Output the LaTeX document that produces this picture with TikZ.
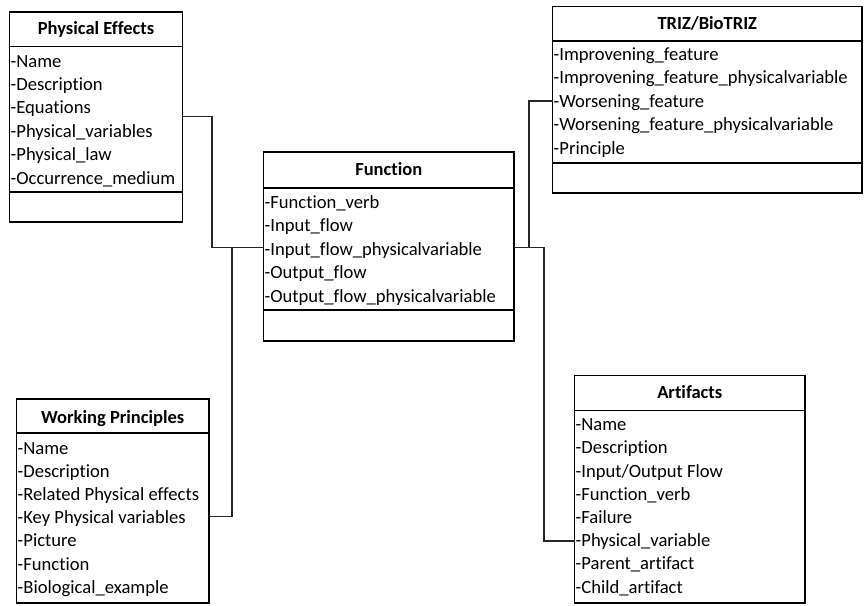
\documentclass[tikz,border=0pt]{standalone}
\usepackage{fontspec}
\setmainfont{Carlito}[Ligatures={NoCommon}]
\begin{document}
\begin{tikzpicture}[x=1pt,y=-1pt,
  box/.style={draw=black, line width=1.9pt, fill=white, inner sep=0pt, outer sep=0pt},
  rule/.style={line width=1.9pt},
  head/.style={font=\fontsize{18.5}{22}\selectfont\bfseries, anchor=base, inner sep=0pt},
  attr/.style={font=\fontsize{18.6}{22}\selectfont, anchor=base west, inner sep=0pt},
  link/.style={draw=black!85, line width=1.1pt}]
\useasboundingbox (0,0) rectangle (864,605);

% ---------- class boxes ----------
\node[box, minimum width=173pt,   minimum height=210pt]   (pe) at (96,117) {};
\node[box, minimum width=250.5pt, minimum height=189pt]   (fn) at (388.75,246.5) {};
\node[box, minimum width=309.5pt, minimum height=186.5pt] (tz) at (707.25,99.75) {};
\node[box, minimum width=192.5pt, minimum height=204pt]   (wp) at (112.75,501) {};
\node[box, minimum width=230.5pt, minimum height=227.5pt] (ar) at (689.75,489.25) {};

% compartment rules
\draw[rule] (pe.west |- 0,46.5) -- (pe.east |- 0,46.5);
\draw[rule] (pe.west |- 0,192)  -- (pe.east |- 0,192);
\draw[rule] (fn.west |- 0,188)  -- (fn.east |- 0,188);
\draw[rule] (fn.west |- 0,310)  -- (fn.east |- 0,310);
\draw[rule] (tz.west |- 0,41)   -- (tz.east |- 0,41);
\draw[rule] (tz.west |- 0,163)  -- (tz.east |- 0,163);
\draw[rule] (wp.west |- 0,433)  -- (wp.east |- 0,433);
\draw[rule] (ar.west |- 0,410.5) -- (ar.east |- 0,410.5);

% ---------- titles ----------
\node[head] (pe-t) at (96,34)     {Physical Effects};
\node[head] (fn-t) at (388.75,175) {Function};
\node[head] (tz-t) at (707.25,29) {TRIZ/BioTRIZ};
\node[head] (wp-t) at (112.75,423) {Working Principles};
\node[head] (ar-t) at (689.75,398) {Artifacts};

% ---------- attributes ----------
\foreach \t [count=\i from 0] in {-Name,-Description,-Equations,-Physical\_variables,-Physical\_law,-Occurrence\_medium}
  \node[attr] (pe-\i) at (10.5,67+23.4*\i) {\t};
\foreach \t [count=\i from 0] in {-Function\_verb,-Input\_flow,-Input\_flow\_physicalvariable,-Output\_flow,-Output\_flow\_physicalvariable}
  \node[attr] (fn-\i) at (264.5,208+23.5*\i) {\t};
\foreach \t [count=\i from 0] in {-Improvening\_feature,-Improvening\_feature\_physicalvariable,-Worsening\_feature,-Worsening\_feature\_physicalvariable,-Principle}
  \node[attr] (tz-\i) at (553.5,60+23.5*\i) {\t};
\foreach \t [count=\i from 0] in {-Name,-Description,-Related Physical effects,-Key Physical variables,-Picture,-Function,-Biological\_example}
  \node[attr] (wp-\i) at (17.5,454+23.2*\i) {\t};
\foreach \t [count=\i from 0] in {-Name,-Description,-Input/Output Flow,-Function\_verb,-Failure,-Physical\_variable,-Parent\_artifact,-Child\_artifact}
  \node[attr] (ar-\i) at (575.5,430.7+23.2*\i) {\t};

% ---------- connectors ----------
\coordinate (jL) at (232,247.5);
\coordinate (jR) at (529,247.5);
\draw[link] (pe.east |- 0,116.5) -| (212,247.5) -- (fn.west |- jL);
\draw[link] (wp.east |- 0,516.5) -| (jL);
\draw[link] (fn.east |- jR) -- (jR) |- (tz.west |- 0,101);
\draw[link] (jR) -- (544,247.5) |- (ar.west |- 0,541);
\end{tikzpicture}
\end{document}
